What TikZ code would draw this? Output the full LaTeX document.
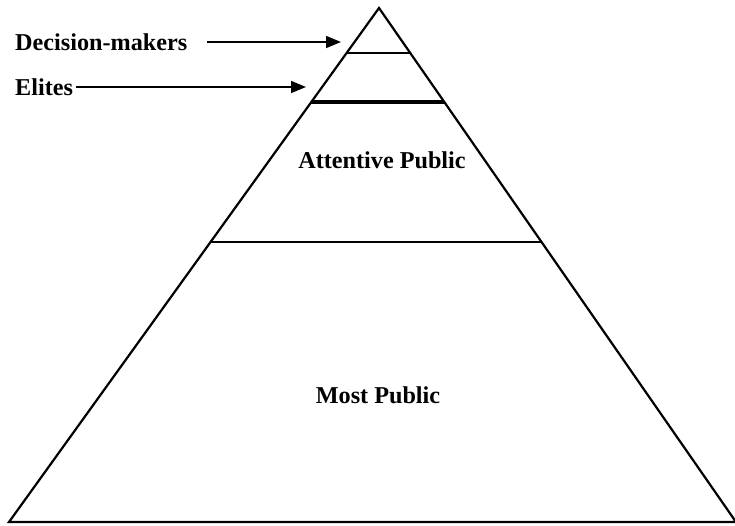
\documentclass[tikz,border=0pt]{standalone}
\usepackage{fontspec}
\setmainfont{Liberation Serif}
\usetikzlibrary{calc,arrows.meta}

\begin{document}
\begin{tikzpicture}[x=1pt,y=-1pt,
    lbl/.style={font=\fontsize{24.2}{28}\selectfont\bfseries, inner sep=0pt},
    pointer/.style={line width=1.5pt, -{Triangle[length=15pt,width=12pt]}}]
  \useasboundingbox (0,0) rectangle (735,525);
  \coordinate (apex) at (379,8);
  \coordinate (bl) at (9,522);
  \coordinate (br) at (736,522);
  \draw[line width=2.2pt, line join=miter] (apex) -- (bl) -- (br) -- cycle;
  % level lines
  \foreach \n/\t/\w in {a/0.0875/2pt,b/0.183/3.2pt,c/0.455/1.8pt}{
    \draw[line width=\w] ($(apex)!\t!(bl)$) coordinate (l\n) -- ($(apex)!\t!(br)$) coordinate (r\n);
  }
  \node[lbl] (attentive) at (382,160) {Attentive Public};
  \node[lbl] (most) at (378,395) {Most Public};
  \node[lbl, anchor=west] (decision) at (15,42) {Decision-makers};
  \node[lbl, anchor=west] (elites) at (15,87) {Elites};
  \coordinate (dtip) at (341,42);
  \coordinate (etip) at (306,87);
  \draw[pointer] ($(decision.east)+(20,0)$) -- (dtip);
  \draw[pointer] ($(elites.east)+(3,0)$) -- (etip);
\end{tikzpicture}
\end{document}
